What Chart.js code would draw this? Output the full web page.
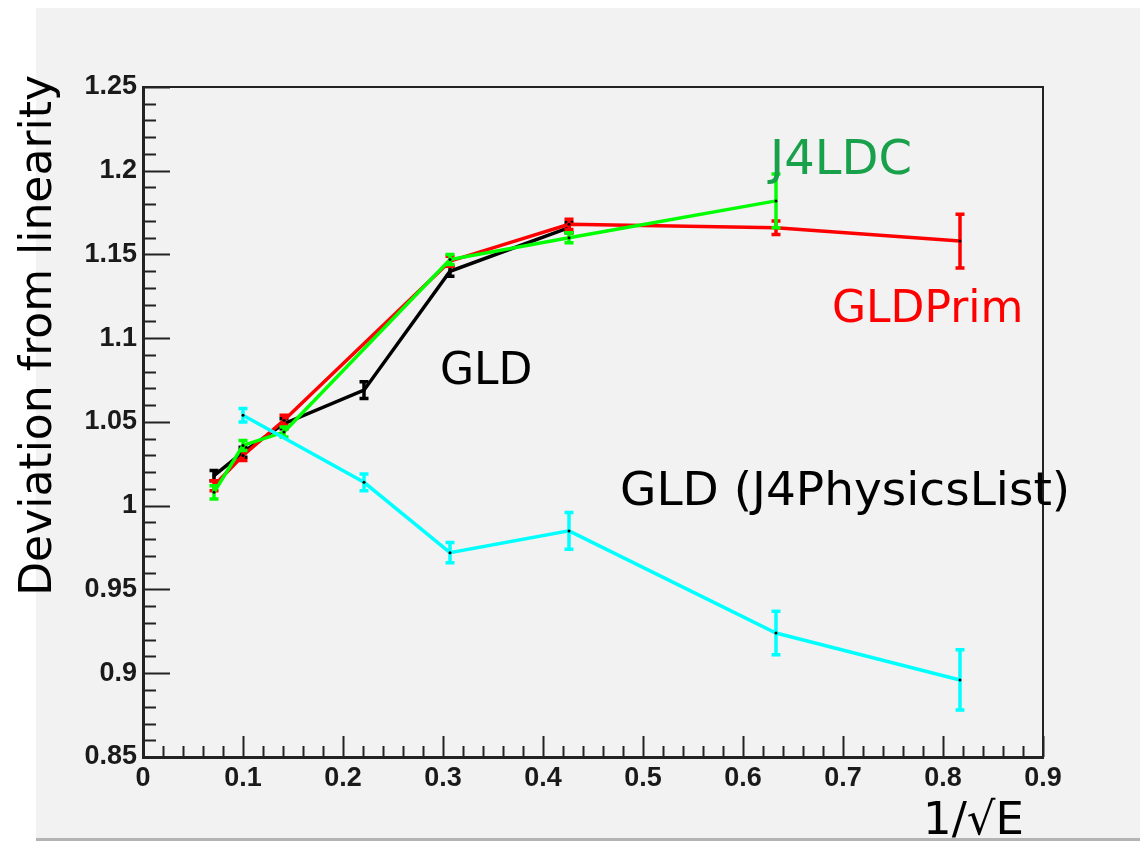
<!DOCTYPE html>
<html>
<head>
<meta charset="utf-8">
<script src="https://cdn.jsdelivr.net/npm/chart.js@4.4.1/dist/chart.umd.min.js"></script>
<style>
  html, body { margin: 0; padding: 0; background: #fff; }
  #wrap { width: 1140px; height: 841px; }
</style>
</head>
<body>
<div id="wrap"><canvas id="chart" width="1140" height="841"></canvas></div>
<script>
// axis ticks
const xTicks = [0, 0.1, 0.2, 0.3, 0.4, 0.5, 0.6, 0.7, 0.8, 0.9];
const xTickLabels = ['0', '0.1', '0.2', '0.3', '0.4', '0.5', '0.6', '0.7', '0.8', '0.9'];
const yTicks = [0.85, 0.9, 0.95, 1, 1.05, 1.1, 1.15, 1.2, 1.25];
const yTickLabels = ['0.85', '0.9', '0.95', '1', '1.05', '1.1', '1.15', '1.2', '1.25'];

// GLD (black)
const gldX = [0.071, 0.100, 0.141, 0.221, 0.307, 0.426];
const gldY = [1.018, 1.032, 1.049, 1.069, 1.140, 1.166];
const gldErr = [0.003, 0.003, 0.003, 0.005, 0.003, 0.003];

// GLDPrim (red)
const primX = [0.071, 0.100, 0.141, 0.307, 0.426, 0.633, 0.817];
const primY = [1.012, 1.030, 1.051, 1.146, 1.168, 1.166, 1.158];
const primErr = [0.003, 0.003, 0.003, 0.003, 0.003, 0.004, 0.016];

// J4LDC (green)
const ldcX = [0.071, 0.100, 0.141, 0.307, 0.426, 0.633];
const ldcY = [1.008, 1.036, 1.044, 1.147, 1.160, 1.182];
const ldcErr = [0.004, 0.003, 0.003, 0.003, 0.003, 0.016];

// GLD (J4PhysicsList) (cyan)
const physX = [0.100, 0.221, 0.307, 0.426, 0.633, 0.817];
const physY = [1.054, 1.014, 0.972, 0.985, 0.924, 0.896];
const physErr = [0.004, 0.005, 0.006, 0.011, 0.013, 0.018];

const handFont = '"Comic Sans MS", "DejaVu Sans", sans-serif';
const tickFont = { family: '"Liberation Sans", Arial, sans-serif', size: 27, weight: 'bold' };

const pts = (xs, ys) => xs.map((x, i) => ({ x: x, y: ys[i] }));

const makeSet = (label, xs, ys, errs, color) => ({
  label: label,
  data: pts(xs, ys),
  errors: errs,
  borderColor: color,
  borderWidth: 3.5,
  showLine: true,
  tension: 0,
  pointRadius: 1.5,
  pointBorderWidth: 0,
  pointBackgroundColor: '#000'
});

// grey ROOT-like pad behind everything
const padBackground = {
  id: 'padBackground',
  beforeDraw(chart) {
    const ctx = chart.ctx;
    ctx.save();
    ctx.fillStyle = '#fff';
    ctx.fillRect(0, 0, chart.width, chart.height);
    ctx.fillStyle = '#f2f2f2';
    ctx.fillRect(36, 8, chart.width - 36, 830);
    ctx.fillStyle = '#b4b4b4';
    ctx.fillRect(36, 838, chart.width - 36, 3);
    ctx.restore();
  }
};

// vertical error bars with small caps
const errorBars = {
  id: 'errorBars',
  beforeDatasetDraw(chart, args) {
    const ds = chart.data.datasets[args.index];
    const xs = chart.scales.x, ys = chart.scales.y;
    const ctx = chart.ctx;
    ctx.save();
    ctx.strokeStyle = ds.borderColor;
    ctx.lineWidth = 3.5;
    ds.data.forEach((p, i) => {
      const e = ds.errors[i];
      const px = xs.getPixelForValue(p.x);
      const top = ys.getPixelForValue(p.y + e);
      const bot = ys.getPixelForValue(p.y - e);
      ctx.beginPath();
      ctx.moveTo(px, top);
      ctx.lineTo(px, bot);
      ctx.moveTo(px - 4.5, top);
      ctx.lineTo(px + 4.5, top);
      ctx.moveTo(px - 4.5, bot);
      ctx.lineTo(px + 4.5, bot);
      ctx.stroke();
    });
    ctx.restore();
  }
};

// frame, inward ticks and text labels
const frameAndText = {
  id: 'frameAndText',
  afterDraw(chart) {
    const ctx = chart.ctx;
    const a = chart.chartArea;
    const xs = chart.scales.x, ys = chart.scales.y;
    ctx.save();
    ctx.strokeStyle = '#222';
    ctx.lineWidth = 2;
    ctx.strokeRect(a.left, a.top, a.right - a.left, a.bottom - a.top);

    ctx.beginPath();
    for (let v = 0.85; v <= 1.2501; v += 0.01) {
      const py = Math.round(ys.getPixelForValue(v)) + 0.5;
      const major = Math.abs(v * 20 - Math.round(v * 20)) < 0.001;
      ctx.moveTo(a.left, py);
      ctx.lineTo(a.left + (major ? 27 : 13), py);
    }
    for (let v = 0; v <= 0.9001; v += 0.02) {
      const px = Math.round(xs.getPixelForValue(v)) + 0.5;
      const major = Math.abs(v * 10 - Math.round(v * 10)) < 0.001;
      ctx.moveTo(px, a.bottom);
      ctx.lineTo(px, a.bottom - (major ? 21 : 11));
    }
    ctx.stroke();

    ctx.textBaseline = 'middle';
    ctx.textAlign = 'left';
    ctx.font = '48px ' + handFont;
    ctx.fillStyle = '#18a04a';
    ctx.fillText('J4LDC', 770, 162);
    ctx.font = '44px ' + handFont;
    ctx.fillStyle = '#ff0000';
    ctx.fillText('GLDPrim', 832, 311);
    ctx.fillStyle = '#000';
    ctx.fillText('GLD', 440, 373);
    ctx.font = '47px ' + handFont;
    ctx.fillText('GLD (J4PhysicsList)', 620, 493);

    ctx.font = '45px ' + handFont;
    ctx.fillText('1/\u221AE', 923, 822);

    ctx.translate(40, 75);
    ctx.rotate(-Math.PI / 2);
    ctx.textAlign = 'right';
    ctx.font = '44px ' + handFont;
    ctx.fillText('Deviation from linearity', 0, 0);
    ctx.restore();
  }
};

new Chart(document.getElementById('chart'), {
  type: 'line',
  data: {
    datasets: [
      makeSet('GLD (J4PhysicsList)', physX, physY, physErr, '#00ffff'),
      makeSet('J4LDC', ldcX, ldcY, ldcErr, '#00ff00'),
      makeSet('GLDPrim', primX, primY, primErr, '#ff0000'),
      makeSet('GLD', gldX, gldY, gldErr, '#000000')
    ]
  },
  options: {
    responsive: false,
    animation: false,
    layout: { padding: { left: 0, right: 97, top: 87, bottom: 0 } },
    plugins: { legend: { display: false }, tooltip: { enabled: false } },
    scales: {
      x: {
        type: 'linear',
        min: 0,
        max: 0.9,
        grid: { display: false, drawTicks: false },
        border: { color: '#222', width: 3 },
        afterBuildTicks: s => { s.ticks = xTicks.map(v => ({ value: v })); },
        afterFit: s => { s.height = 84; },
        ticks: {
          padding: 5,
          color: '#1a1a1a',
          font: tickFont,
          maxRotation: 0,
          autoSkip: false,
          callback: (v, i) => xTickLabels[i]
        }
      },
      y: {
        type: 'linear',
        min: 0.85,
        max: 1.25,
        grid: { display: false, drawTicks: false },
        border: { color: '#222', width: 3 },
        afterBuildTicks: s => { s.ticks = yTicks.map(v => ({ value: v })); },
        afterFit: s => { s.width = 143; },
        ticks: {
          padding: 6,
          color: '#1a1a1a',
          font: tickFont,
          autoSkip: false,
          callback: (v, i) => yTickLabels[i]
        }
      }
    }
  },
  plugins: [padBackground, errorBars, frameAndText]
});
</script>
</body>
</html>
